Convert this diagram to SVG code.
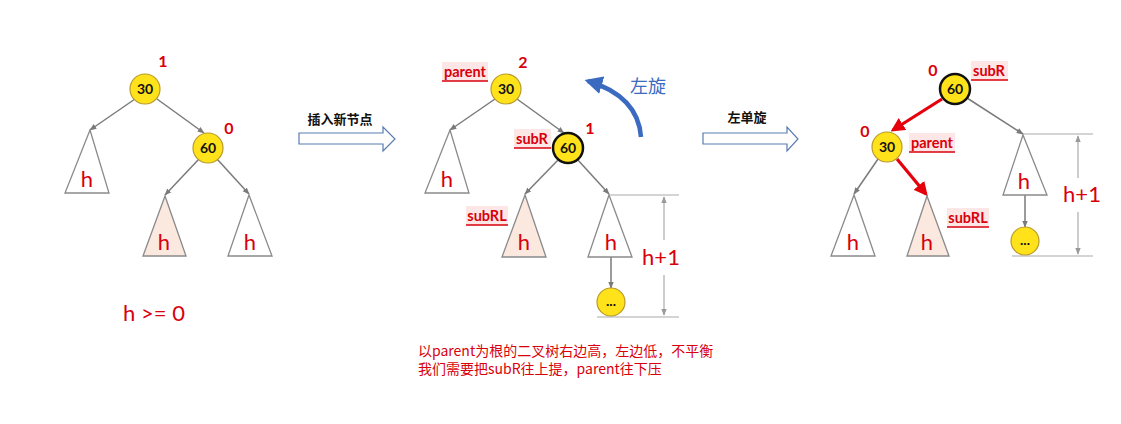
<svg xmlns="http://www.w3.org/2000/svg" width="1121" height="424" viewBox="0 0 1121 424">
<style>
.node{fill:#FFE21A;stroke:#B89A2A;stroke-width:1.2}
.nodeb{fill:#FFE21A;stroke:#111;stroke-width:2.5}
.nt{font-family:Lato,"Liberation Sans",sans-serif;font-weight:bold;font-size:14px;fill:#111;text-anchor:middle}
.tri{fill:#fff;stroke:#8a8a8a;stroke-width:1.3}
.tris{fill:#FBE9E0;stroke:#8a8a8a;stroke-width:1.3}
.h{font-family:Lato,"Liberation Sans",sans-serif;font-size:22px;fill:#D9000B;text-anchor:middle}
.bf{font-family:Lato,"Liberation Sans",sans-serif;font-weight:bold;font-size:16px;fill:#D9000B;text-anchor:middle}
.lab{font-family:Lato,"Liberation Sans",sans-serif;font-weight:bold;font-size:14.5px;fill:#D9000B;text-anchor:middle}
.labbg{fill:#FCE6E6}
.ul{stroke:#D9000B;stroke-width:1.3}
.edge{stroke:#7a7a7a;stroke-width:1.5;fill:none}
.red{stroke:#E5000C;stroke-width:3.2;fill:none}
.dim{stroke:#aaa;stroke-width:1.2;fill:none}
.hollow{fill:#fff;stroke:#5A7DB0;stroke-width:1.2}
.cn{font-family:"Noto Sans CJK SC",sans-serif;font-weight:bold;font-size:13px;fill:#111;text-anchor:middle}
.note{font-family:"Noto Sans CJK SC",sans-serif;font-size:14px;fill:#D9000B}
</style>
<defs>
<marker id="ga" markerUnits="userSpaceOnUse" markerWidth="7" markerHeight="7" viewBox="0 0 10 10" refX="9" refY="5" orient="auto"><path d="M0,1 L10,5 L0,9 z" fill="#7a7a7a"/></marker>
<marker id="ra" markerUnits="userSpaceOnUse" markerWidth="14" markerHeight="14" viewBox="0 0 10 10" refX="8" refY="5" orient="auto"><path d="M0,0 L10,5 L0,10 z" fill="#E5000C"/></marker>
<marker id="ba" markerUnits="userSpaceOnUse" markerWidth="18" markerHeight="18" viewBox="0 0 10 10" refX="8" refY="5" orient="auto"><path d="M0,0 L10,5 L0,10 z" fill="#3A6BC0"/></marker>
<marker id="da" markerUnits="userSpaceOnUse" markerWidth="7" markerHeight="7" viewBox="0 0 10 10" refX="9" refY="5" orient="auto"><path d="M0,1 L10,5 L0,9 z" fill="#999"/></marker>
</defs>

<g id="connectors">
<!-- panel 1 -->
<line class="edge" x1="135" y1="99" x2="90" y2="130" marker-end="url(#ga)"/>
<line class="edge" x1="157" y1="99" x2="204" y2="133" marker-end="url(#ga)"/>
<line class="edge" x1="199" y1="159" x2="165" y2="195" marker-end="url(#ga)"/>
<line class="edge" x1="217" y1="159" x2="249" y2="194" marker-end="url(#ga)"/>
<!-- panel 2 -->
<line class="edge" x1="495" y1="99" x2="450" y2="130" marker-end="url(#ga)"/>
<line class="edge" x1="517" y1="99" x2="564" y2="133" marker-end="url(#ga)"/>
<line class="edge" x1="559" y1="159" x2="525" y2="194" marker-end="url(#ga)"/>
<line class="edge" x1="577" y1="159" x2="609" y2="194" marker-end="url(#ga)"/>
<line class="edge" x1="611" y1="257" x2="611" y2="288" marker-end="url(#ga)"/>
<path d="M641 137 Q638 96 588 81" stroke="#3A6BC0" stroke-width="4.5" fill="none" marker-end="url(#ba)"/>
<!-- panel 3 -->
<line class="red" x1="942" y1="99" x2="893" y2="130" marker-end="url(#ra)"/>
<line class="red" x1="897" y1="159" x2="926" y2="194" marker-end="url(#ra)"/>
<line class="edge" x1="878" y1="159" x2="854" y2="194" marker-end="url(#ga)"/>
<line class="edge" x1="967" y1="98" x2="1023" y2="134" marker-end="url(#ga)"/>
<line class="edge" x1="1025" y1="195" x2="1025" y2="227" marker-end="url(#ga)"/>
</g>

<g id="dimensions">
<line class="dim" x1="609" y1="195" x2="679" y2="195"/>
<line class="dim" x1="597" y1="317" x2="679" y2="317"/>
<line class="dim" x1="664" y1="240" x2="664" y2="197" marker-end="url(#da)"/>
<line class="dim" x1="664" y1="275" x2="664" y2="315" marker-end="url(#da)"/>
<text class="h" x="661" y="265">h+1</text>
<line class="dim" x1="1023" y1="134" x2="1093" y2="134"/>
<line class="dim" x1="1012" y1="256" x2="1093" y2="256"/>
<line class="dim" x1="1078" y1="178" x2="1078" y2="136" marker-end="url(#da)"/>
<line class="dim" x1="1078" y1="212" x2="1078" y2="254" marker-end="url(#da)"/>
<text class="h" x="1082" y="202">h+1</text>
</g>

<!-- Panel 1 -->
<g id="p1-n30"><circle class="node" cx="145" cy="89" r="15"/><text class="nt" x="145" y="94">30</text><text class="bf" x="163" y="67">1</text></g>
<g id="p1-n60"><circle class="node" cx="208" cy="148" r="15"/><text class="nt" x="208" y="153">60</text><text class="bf" x="229" y="134">0</text></g>
<g id="p1-t1"><polygon class="tri" points="90,130 65,193 109,193"/><text class="h" x="87" y="187">h</text></g>
<g id="p1-t2"><polygon class="tris" points="165,196 143,256 186,256"/><text class="h" x="164" y="250">h</text></g>
<g id="p1-t3"><polygon class="tri" points="249,195 228,256 272,256"/><text class="h" x="250" y="250">h</text></g>
<g id="p1-cond"><text x="154" y="321" font-family="Lato,'Liberation Sans',sans-serif" font-size="22" fill="#D9000B" text-anchor="middle">h &gt;= 0</text></g>

<!-- Arrow 1 -->
<g id="arrow-insert"><text class="cn" x="340" y="124">插入新节点</text><polygon class="hollow" points="299,133 383,133 383,127 395,139 383,151 383,144 299,144"/></g>

<!-- Panel 2 -->
<g id="p2-n30"><circle class="node" cx="506" cy="89" r="15"/><text class="nt" x="506" y="94">30</text><text class="bf" x="523" y="68">2</text>
<rect class="labbg" x="442" y="62" width="46" height="19"/><text class="lab" x="465" y="77">parent</text><line class="ul" x1="442" y1="81" x2="488" y2="81"/></g>
<g id="p2-n60"><circle class="nodeb" cx="568" cy="148" r="15"/><text class="nt" x="568" y="153">60</text><text class="bf" x="590" y="134">1</text>
<rect class="labbg" x="514" y="129" width="37" height="19"/><text class="lab" x="532" y="144">subR</text><line class="ul" x1="514" y1="148" x2="551" y2="148"/></g>
<g id="p2-t1"><polygon class="tri" points="450,130 425,193 469,193"/><text class="h" x="447" y="187">h</text></g>
<g id="p2-t2"><polygon class="tris" points="525,195 502,257 546,257"/><text class="h" x="524" y="250">h</text>
<rect class="labbg" x="466" y="206" width="42" height="19"/><text class="lab" x="487" y="221">subRL</text><line class="ul" x1="466" y1="225" x2="508" y2="225"/></g>
<g id="p2-t3"><polygon class="tri" points="609,195 588,257 632,257"/><text class="h" x="611" y="250">h</text></g>
<g id="p2-dot"><circle class="node" cx="611" cy="302" r="14"/><text class="nt" x="611" y="306">...</text></g>
<g id="rot-label"><text x="648" y="93" font-family="'Noto Sans CJK SC',sans-serif" font-size="18" fill="#3A6BC0" text-anchor="middle">左旋</text></g>

<!-- Arrow 2 -->
<g id="arrow-rotate"><text class="cn" x="747" y="122">左单旋</text><polygon class="hollow" points="703,133 787,133 787,127 798,139 787,151 787,144 703,144"/></g>

<!-- Panel 3 -->
<g id="p3-n60"><circle class="nodeb" cx="955" cy="89" r="15"/><text class="nt" x="955" y="94">60</text><text class="bf" x="933" y="76">0</text>
<rect class="labbg" x="971" y="61" width="37" height="19"/><text class="lab" x="989" y="76">subR</text><line class="ul" x1="971" y1="80" x2="1008" y2="80"/></g>
<g id="p3-n30"><circle class="node" cx="887" cy="147" r="15"/><text class="nt" x="887" y="152">30</text><text class="bf" x="865" y="137">0</text>
<rect class="labbg" x="909" y="133" width="46" height="19"/><text class="lab" x="932" y="148">parent</text><line class="ul" x1="909" y1="152" x2="955" y2="152"/></g>
<g id="p3-t1"><polygon class="tri" points="854,195 831,256 875,256"/><text class="h" x="853" y="250">h</text></g>
<g id="p3-t2"><polygon class="tris" points="927,196 907,256 949,256"/><text class="h" x="927" y="250">h</text>
<rect class="labbg" x="947" y="208" width="42" height="19"/><text class="lab" x="968" y="223">subRL</text><line class="ul" x1="947" y1="227" x2="989" y2="227"/></g>
<g id="p3-t3"><polygon class="tri" points="1023,135 1003,195 1047,195"/><text class="h" x="1024" y="189">h</text></g>
<g id="p3-dot"><circle class="node" cx="1025" cy="241" r="14"/><text class="nt" x="1025" y="245">...</text></g>

<g id="note">
<text class="note" x="418" y="356">以parent为根的二叉树右边高，左边低，不平衡</text>
<text class="note" x="418" y="374">我们需要把subR往上提，parent往下压</text>
</g>
</svg>
